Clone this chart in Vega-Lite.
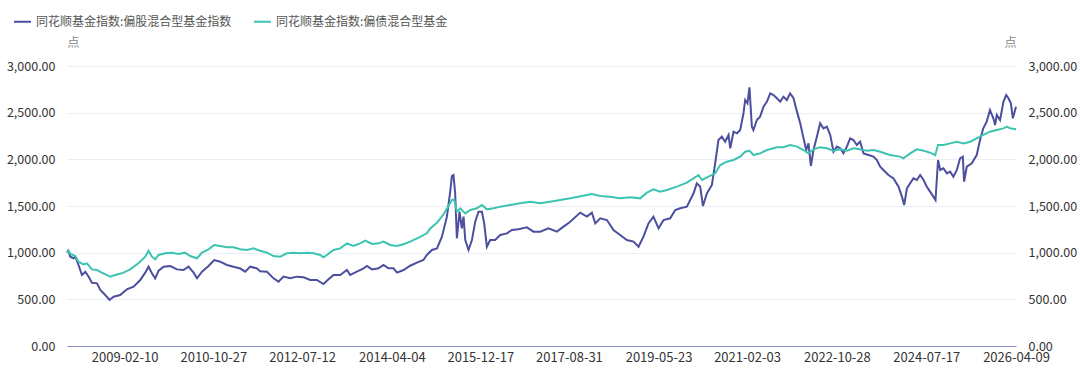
{
"$schema": "https://vega.github.io/schema/vega-lite/v6.json",
"width": 949, "height": 280,
"autosize": {"type": "none"},
"padding": {"left": 67, "top": 66, "right": 64, "bottom": 30},
"background": "#ffffff",
"config": {"font": "Noto Sans CJK SC", "view": {"stroke": null}},
"datasets": {
"stock": [
{"date":"2008-01-02","value":1000},{"date":"2008-01-11","value":1020},{"date":"2008-01-25","value":957},{"date":"2008-02-17","value":940},{"date":"2008-02-29","value":957},{"date":"2008-03-23","value":868},{"date":"2008-04-16","value":761},{"date":"2008-05-10","value":796},{"date":"2008-06-02","value":743},{"date":"2008-06-26","value":678},{"date":"2008-07-31","value":671},{"date":"2008-08-23","value":600},{"date":"2008-09-27","value":546},{"date":"2008-10-27","value":493},{"date":"2008-11-25","value":528},{"date":"2009-01-10","value":546},{"date":"2009-02-26","value":607},{"date":"2009-04-14","value":636},{"date":"2009-05-31","value":707},{"date":"2009-07-05","value":786},{"date":"2009-07-28","value":850},{"date":"2009-08-21","value":779},{"date":"2009-09-13","value":725},{"date":"2009-10-07","value":807},{"date":"2009-11-11","value":850},{"date":"2009-12-28","value":857},{"date":"2010-02-13","value":821},{"date":"2010-03-31","value":814},{"date":"2010-05-05","value":850},{"date":"2010-06-10","value":786},{"date":"2010-07-04","value":725},{"date":"2010-08-08","value":796},{"date":"2010-09-23","value":857},{"date":"2010-11-02","value":921},{"date":"2010-12-14","value":903},{"date":"2011-01-30","value":868},{"date":"2011-03-18","value":850},{"date":"2011-05-04","value":830},{"date":"2011-06-08","value":796},{"date":"2011-07-13","value":850},{"date":"2011-08-29","value":832},{"date":"2011-09-21","value":800},{"date":"2011-11-08","value":796},{"date":"2011-12-24","value":725},{"date":"2012-01-28","value":689},{"date":"2012-03-03","value":743},{"date":"2012-04-19","value":725},{"date":"2012-06-05","value":743},{"date":"2012-07-22","value":736},{"date":"2012-09-07","value":707},{"date":"2012-10-24","value":707},{"date":"2012-12-09","value":664},{"date":"2013-01-14","value":714},{"date":"2013-02-18","value":761},{"date":"2013-04-06","value":761},{"date":"2013-05-23","value":814},{"date":"2013-06-15","value":761},{"date":"2013-08-01","value":796},{"date":"2013-09-17","value":832},{"date":"2013-10-11","value":857},{"date":"2013-11-15","value":821},{"date":"2013-12-31","value":832},{"date":"2014-02-04","value":868},{"date":"2014-03-11","value":832},{"date":"2014-04-16","value":832},{"date":"2014-05-10","value":786},{"date":"2014-06-25","value":814},{"date":"2014-08-11","value":860},{"date":"2014-09-27","value":893},{"date":"2014-11-12","value":921},{"date":"2014-12-06","value":975},{"date":"2015-01-11","value":1029},{"date":"2015-02-15","value":1046},{"date":"2015-03-22","value":1171},{"date":"2015-04-26","value":1386},{"date":"2015-05-19","value":1650},{"date":"2015-05-31","value":1821},{"date":"2015-06-11","value":1832},{"date":"2015-06-23","value":1636},{"date":"2015-07-05","value":1154},{"date":"2015-07-24","value":1439},{"date":"2015-08-09","value":1261},{"date":"2015-08-21","value":1386},{"date":"2015-09-02","value":1136},{"date":"2015-09-25","value":1029},{"date":"2015-10-19","value":1136},{"date":"2015-11-11","value":1332},{"date":"2015-12-04","value":1439},{"date":"2015-12-28","value":1439},{"date":"2016-01-13","value":1314},{"date":"2016-02-01","value":1064},{"date":"2016-02-24","value":1136},{"date":"2016-03-30","value":1136},{"date":"2016-05-05","value":1189},{"date":"2016-06-21","value":1207},{"date":"2016-07-26","value":1243},{"date":"2016-09-10","value":1250},{"date":"2016-11-08","value":1271},{"date":"2016-12-25","value":1225},{"date":"2017-02-10","value":1225},{"date":"2017-04-09","value":1261},{"date":"2017-06-07","value":1225},{"date":"2017-07-24","value":1279},{"date":"2017-09-09","value":1332},{"date":"2017-11-18","value":1429},{"date":"2018-01-04","value":1386},{"date":"2018-02-08","value":1429},{"date":"2018-03-04","value":1314},{"date":"2018-04-08","value":1368},{"date":"2018-05-25","value":1350},{"date":"2018-07-10","value":1243},{"date":"2018-08-26","value":1189},{"date":"2018-10-12","value":1136},{"date":"2018-11-28","value":1118},{"date":"2019-01-02","value":1064},{"date":"2019-02-06","value":1171},{"date":"2019-03-13","value":1314},{"date":"2019-04-17","value":1386},{"date":"2019-05-23","value":1261},{"date":"2019-06-27","value":1350},{"date":"2019-08-13","value":1368},{"date":"2019-09-17","value":1457},{"date":"2019-10-22","value":1475},{"date":"2019-12-08","value":1493},{"date":"2020-01-24","value":1636},{"date":"2020-02-16","value":1743},{"date":"2020-03-11","value":1707},{"date":"2020-03-30","value":1500},{"date":"2020-04-27","value":1636},{"date":"2020-06-01","value":1725},{"date":"2020-06-24","value":1957},{"date":"2020-07-17","value":2207},{"date":"2020-08-10","value":2243},{"date":"2020-09-02","value":2189},{"date":"2020-09-26","value":2261},{"date":"2020-10-08","value":2118},{"date":"2020-10-31","value":2296},{"date":"2020-11-24","value":2279},{"date":"2020-12-17","value":2314},{"date":"2021-01-09","value":2493},{"date":"2021-01-21","value":2636},{"date":"2021-02-06","value":2600},{"date":"2021-02-20","value":2771},{"date":"2021-03-09","value":2350},{"date":"2021-03-20","value":2314},{"date":"2021-04-13","value":2421},{"date":"2021-05-06","value":2457},{"date":"2021-05-30","value":2564},{"date":"2021-06-23","value":2618},{"date":"2021-07-16","value":2707},{"date":"2021-08-08","value":2689},{"date":"2021-09-01","value":2654},{"date":"2021-09-24","value":2618},{"date":"2021-10-17","value":2671},{"date":"2021-11-10","value":2636},{"date":"2021-12-03","value":2707},{"date":"2021-12-27","value":2654},{"date":"2022-01-20","value":2511},{"date":"2022-02-12","value":2386},{"date":"2022-03-07","value":2225},{"date":"2022-03-26","value":2100},{"date":"2022-04-11","value":2171},{"date":"2022-04-28","value":1929},{"date":"2022-05-16","value":2100},{"date":"2022-06-09","value":2243},{"date":"2022-07-02","value":2386},{"date":"2022-07-25","value":2332},{"date":"2022-08-18","value":2350},{"date":"2022-09-11","value":2261},{"date":"2022-10-04","value":2082},{"date":"2022-10-28","value":2136},{"date":"2022-11-20","value":2118},{"date":"2022-12-13","value":2064},{"date":"2023-01-06","value":2136},{"date":"2023-01-29","value":2225},{"date":"2023-02-21","value":2207},{"date":"2023-03-17","value":2154},{"date":"2023-04-09","value":2189},{"date":"2023-05-03","value":2064},{"date":"2023-06-07","value":2046},{"date":"2023-07-12","value":2029},{"date":"2023-08-05","value":1993},{"date":"2023-08-28","value":1921},{"date":"2023-09-20","value":1886},{"date":"2023-10-25","value":1832},{"date":"2023-11-30","value":1796},{"date":"2024-01-04","value":1707},{"date":"2024-01-28","value":1600},{"date":"2024-02-13","value":1511},{"date":"2024-03-03","value":1689},{"date":"2024-03-26","value":1743},{"date":"2024-04-18","value":1796},{"date":"2024-05-12","value":1779},{"date":"2024-06-04","value":1832},{"date":"2024-06-28","value":1779},{"date":"2024-07-21","value":1707},{"date":"2024-08-13","value":1654},{"date":"2024-09-05","value":1600},{"date":"2024-09-20","value":1564},{"date":"2024-10-08","value":1993},{"date":"2024-10-23","value":1886},{"date":"2024-11-15","value":1904},{"date":"2024-12-09","value":1850},{"date":"2025-01-01","value":1868},{"date":"2025-01-24","value":1814},{"date":"2025-02-17","value":1886},{"date":"2025-03-12","value":2011},{"date":"2025-03-31","value":2029},{"date":"2025-04-09","value":1761},{"date":"2025-04-28","value":1921},{"date":"2025-06-02","value":1957},{"date":"2025-07-07","value":2046},{"date":"2025-07-30","value":2207},{"date":"2025-08-22","value":2332},{"date":"2025-09-15","value":2404},{"date":"2025-10-08","value":2529},{"date":"2025-11-01","value":2439},{"date":"2025-11-13","value":2368},{"date":"2025-11-25","value":2475},{"date":"2025-12-18","value":2421},{"date":"2026-01-11","value":2618},{"date":"2026-01-30","value":2689},{"date":"2026-02-15","value":2654},{"date":"2026-03-04","value":2600},{"date":"2026-03-18","value":2439},{"date":"2026-04-09","value":2564}
],
"bond": [
{"date":"2008-01-02","value":1000},{"date":"2008-01-11","value":1025},{"date":"2008-01-25","value":986},{"date":"2008-02-29","value":964},{"date":"2008-03-23","value":903},{"date":"2008-04-27","value":875},{"date":"2008-05-21","value":886},{"date":"2008-06-26","value":821},{"date":"2008-07-31","value":814},{"date":"2008-09-03","value":786},{"date":"2008-11-01","value":743},{"date":"2008-12-06","value":761},{"date":"2009-01-22","value":779},{"date":"2009-03-21","value":821},{"date":"2009-05-18","value":886},{"date":"2009-07-05","value":957},{"date":"2009-07-28","value":1021},{"date":"2009-08-21","value":957},{"date":"2009-09-13","value":929},{"date":"2009-10-07","value":975},{"date":"2009-11-22","value":993},{"date":"2010-01-08","value":1000},{"date":"2010-02-24","value":986},{"date":"2010-04-11","value":1000},{"date":"2010-05-17","value":964},{"date":"2010-07-04","value":940},{"date":"2010-08-08","value":1000},{"date":"2010-09-23","value":1036},{"date":"2010-11-02","value":1082},{"date":"2010-12-14","value":1071},{"date":"2011-01-30","value":1057},{"date":"2011-03-18","value":1057},{"date":"2011-05-04","value":1036},{"date":"2011-06-20","value":1029},{"date":"2011-08-05","value":1046},{"date":"2011-09-21","value":1020},{"date":"2011-11-08","value":1000},{"date":"2011-12-24","value":964},{"date":"2012-02-09","value":957},{"date":"2012-03-27","value":993},{"date":"2012-05-13","value":1000},{"date":"2012-06-29","value":993},{"date":"2012-08-15","value":1000},{"date":"2012-09-30","value":993},{"date":"2012-11-16","value":975},{"date":"2012-12-09","value":950},{"date":"2013-01-02","value":975},{"date":"2013-02-18","value":1029},{"date":"2013-04-06","value":1046},{"date":"2013-05-23","value":1100},{"date":"2013-07-08","value":1071},{"date":"2013-08-24","value":1100},{"date":"2013-09-29","value":1129},{"date":"2013-11-15","value":1093},{"date":"2013-12-31","value":1100},{"date":"2014-02-04","value":1118},{"date":"2014-03-23","value":1082},{"date":"2014-05-10","value":1071},{"date":"2014-06-25","value":1090},{"date":"2014-08-11","value":1118},{"date":"2014-10-20","value":1170},{"date":"2014-12-06","value":1207},{"date":"2014-12-30","value":1260},{"date":"2015-02-15","value":1320},{"date":"2015-04-02","value":1410},{"date":"2015-05-07","value":1500},{"date":"2015-05-31","value":1564},{"date":"2015-06-16","value":1571},{"date":"2015-07-05","value":1439},{"date":"2015-07-29","value":1475},{"date":"2015-09-02","value":1421},{"date":"2015-10-07","value":1457},{"date":"2015-11-23","value":1475},{"date":"2015-12-28","value":1511},{"date":"2016-02-01","value":1464},{"date":"2016-03-19","value":1475},{"date":"2016-05-05","value":1493},{"date":"2016-07-14","value":1511},{"date":"2016-09-22","value":1529},{"date":"2016-12-02","value":1546},{"date":"2017-02-10","value":1529},{"date":"2017-04-20","value":1546},{"date":"2017-06-30","value":1564},{"date":"2017-09-09","value":1582},{"date":"2017-11-30","value":1607},{"date":"2018-02-08","value":1629},{"date":"2018-04-08","value":1607},{"date":"2018-06-16","value":1600},{"date":"2018-08-26","value":1582},{"date":"2018-11-04","value":1593},{"date":"2019-01-14","value":1582},{"date":"2019-03-02","value":1643},{"date":"2019-04-17","value":1679},{"date":"2019-06-03","value":1654},{"date":"2019-07-21","value":1671},{"date":"2019-09-29","value":1707},{"date":"2019-12-08","value":1750},{"date":"2020-01-24","value":1796},{"date":"2020-02-28","value":1832},{"date":"2020-03-23","value":1779},{"date":"2020-05-08","value":1814},{"date":"2020-06-24","value":1850},{"date":"2020-07-30","value":1939},{"date":"2020-09-14","value":1975},{"date":"2020-10-31","value":1993},{"date":"2020-12-17","value":2029},{"date":"2021-01-21","value":2082},{"date":"2021-02-20","value":2093},{"date":"2021-03-20","value":2046},{"date":"2021-05-06","value":2064},{"date":"2021-06-23","value":2100},{"date":"2021-09-01","value":2129},{"date":"2021-10-17","value":2129},{"date":"2021-12-03","value":2154},{"date":"2022-01-20","value":2136},{"date":"2022-03-07","value":2100},{"date":"2022-04-11","value":2064},{"date":"2022-05-16","value":2107},{"date":"2022-07-02","value":2129},{"date":"2022-08-18","value":2118},{"date":"2022-10-04","value":2093},{"date":"2022-11-20","value":2107},{"date":"2023-01-06","value":2093},{"date":"2023-02-21","value":2118},{"date":"2023-04-09","value":2107},{"date":"2023-05-27","value":2093},{"date":"2023-07-12","value":2100},{"date":"2023-08-28","value":2082},{"date":"2023-11-05","value":2046},{"date":"2024-01-15","value":2029},{"date":"2024-02-07","value":2011},{"date":"2024-03-26","value":2064},{"date":"2024-05-12","value":2107},{"date":"2024-06-28","value":2093},{"date":"2024-08-13","value":2071},{"date":"2024-09-18","value":2046},{"date":"2024-10-08","value":2154},{"date":"2024-11-15","value":2154},{"date":"2025-01-01","value":2171},{"date":"2025-02-17","value":2189},{"date":"2025-04-05","value":2171},{"date":"2025-05-22","value":2189},{"date":"2025-07-07","value":2225},{"date":"2025-08-22","value":2261},{"date":"2025-10-08","value":2296},{"date":"2025-11-25","value":2314},{"date":"2026-01-11","value":2332},{"date":"2026-02-04","value":2350},{"date":"2026-02-27","value":2332},{"date":"2026-04-09","value":2322}
]
},
"layer": [
{
"data": {"name": "stock"},
"mark": {"type": "line", "strokeWidth": 2},
"encoding": {
"x": {"field": "date", "type": "temporal",
"scale": {"type": "utc", "nice": false, "domain": [{"year": 2008, "month": 1, "date": 2, "utc": true}, {"year": 2026, "month": 4, "date": 9, "utc": true}]},
"axis": {"title": null, "labelExpr": "utcFormat(datum.value, '%Y-%m-%d')", "grid": false, "ticks": false, "domain": true, "domainColor": "#8690c8", "domainWidth": 1, "labelPadding": 5, "labelFontSize": 13, "labelColor": "#333333", "labelOverlap": false, "labelFlush": false, "labelBound": false,
"values": [{"year": 2009, "month": 2, "date": 10, "utc": true}, {"year": 2010, "month": 10, "date": 27, "utc": true}, {"year": 2012, "month": 7, "date": 12, "utc": true}, {"year": 2014, "month": 4, "date": 4, "utc": true}, {"year": 2015, "month": 12, "date": 17, "utc": true}, {"year": 2017, "month": 8, "date": 31, "utc": true}, {"year": 2019, "month": 5, "date": 23, "utc": true}, {"year": 2021, "month": 2, "date": 3, "utc": true}, {"year": 2022, "month": 10, "date": 28, "utc": true}, {"year": 2024, "month": 7, "date": 17, "utc": true}, {"year": 2026, "month": 4, "date": 9, "utc": true}]}},
"y": {"field": "value", "type": "quantitative",
"scale": {"domain": [0, 3000], "nice": false, "zero": true},
"axis": {"orient": "left", "values": [0, 500, 1000, 1500, 2000, 2500, 3000], "format": ",.2f", "grid": true, "gridColor": "#eceef5", "gridWidth": 1, "ticks": false, "domain": false, "labelPadding": 12, "labelFontSize": 12.5, "labelColor": "#333333",
"title": "点", "titleAngle": 0, "titleAlign": "left", "titleBaseline": "alphabetic", "titleX": 0, "titleY": -20, "titleFontSize": 12, "titleFontWeight": "normal", "titleColor": "#888888"}},
"color": {"datum": "同花顺基金指数:偏股混合型基金指数", "type": "nominal",
"scale": {"domain": ["同花顺基金指数:偏股混合型基金指数", "同花顺基金指数:偏债混合型基金"], "range": ["#4b4f9d", "#3cc4b0"]},
"legend": {"title": null, "orient": "none", "legendX": -54, "legendY": -54, "direction": "horizontal", "symbolType": "stroke", "symbolSize": 289, "symbolStrokeWidth": 2, "labelFontSize": 12, "labelColor": "#555555", "labelLimit": 400, "columnPadding": 18, "labelOffset": 4}}
}
},
{
"data": {"name": "bond"},
"mark": {"type": "line", "strokeWidth": 2},
"encoding": {
"x": {"field": "date", "type": "temporal"},
"y": {"field": "value", "type": "quantitative",
"scale": {"domain": [0, 3000], "nice": false, "zero": true},
"axis": {"orient": "right", "values": [0, 500, 1000, 1500, 2000, 2500, 3000], "format": ",.2f", "grid": false, "ticks": false, "domain": false, "labelPadding": 12, "labelFontSize": 12.5, "labelColor": "#333333",
"title": "点", "titleAngle": 0, "titleAlign": "right", "titleBaseline": "alphabetic", "titleX": 0, "titleY": -20, "titleFontSize": 12, "titleFontWeight": "normal", "titleColor": "#888888"}},
"color": {"datum": "同花顺基金指数:偏债混合型基金", "type": "nominal"}
}
}
],
"resolve": {"scale": {"y": "independent"}}
}
